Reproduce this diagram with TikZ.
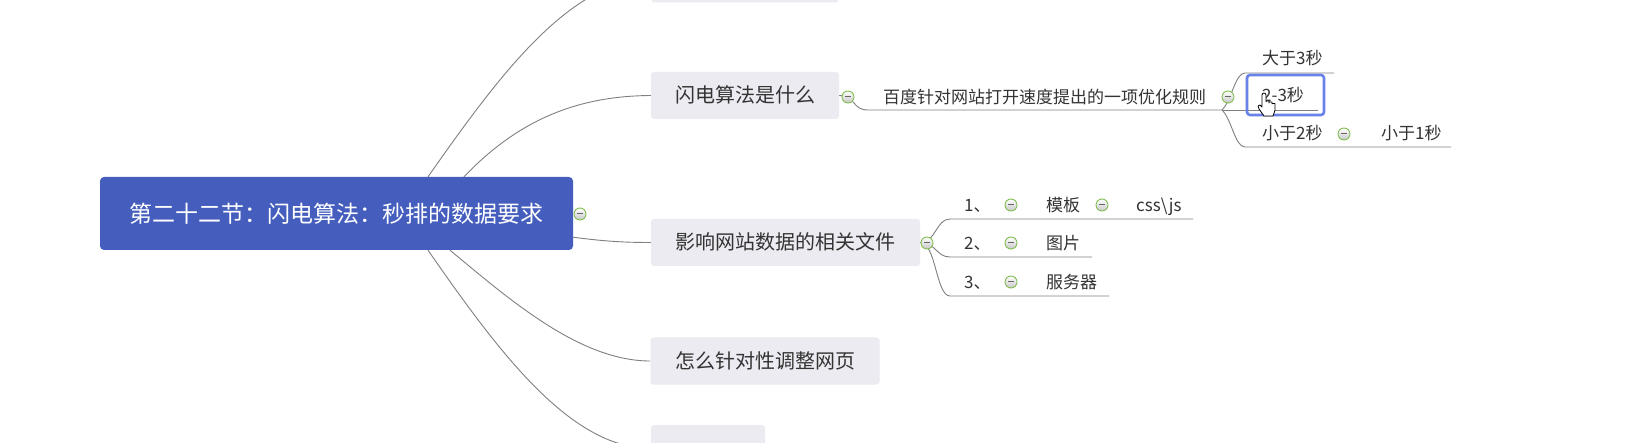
\documentclass[tikz,border=0pt]{standalone}
\usepackage{fontspec}
\setmainfont{Noto Sans CJK SC}
\usetikzlibrary{calc}
\definecolor{rootblue}{RGB}{69,94,190}
\definecolor{topicgray}{RGB}{235,235,241}
\definecolor{linegray}{RGB}{128,128,128}
\definecolor{txt}{RGB}{51,51,51}
\definecolor{cgreen}{RGB}{130,190,80}
\definecolor{selblue}{RGB}{104,130,232}
\pgfdeclarelayer{paper}
\pgfdeclarelayer{lines}
\pgfsetlayers{paper,lines,main}
\tikzset{
 conn/.style={draw=linegray, line width=0.9pt},
 rootbox/.style={rectangle, rounded corners=4pt, fill=rootblue, text=white,
   font=\fontsize{23pt}{27pt}\selectfont, minimum width=473pt, minimum height=73pt,
   inner sep=0pt, text height=18.9pt, text depth=1.8pt},
 topicbox/.style={rectangle, rounded corners=3pt, fill=topicgray, text=txt,
   font=\fontsize{20pt}{24pt}\selectfont, minimum height=47pt, inner sep=0pt,
   text height=16.4pt, text depth=1.6pt},
 leaf/.style={text=txt, font=\fontsize{17pt}{20pt}\selectfont, inner sep=0pt,
   text height=14pt, text depth=1.4pt, anchor=west},
 collapse/.style={circle, draw=cgreen, line width=0.9pt, top color=white,
   bottom color=black!22, minimum size=12pt, inner sep=0pt,
   path picture={\draw[line width=1pt, draw=black!60]
     ([xshift=-3pt]path picture bounding box.center) --
     ([xshift=3pt]path picture bounding box.center);}},
 selbox/.style={draw=selblue, line width=2.6pt, rounded corners=3pt,
   minimum width=77pt, minimum height=40pt, inner sep=0pt},
}
\begin{document}
\begin{tikzpicture}[x=1pt,y=-1pt]
\useasboundingbox (0,0) rectangle (1635,443);
\begin{pgfonlayer}{paper}
\fill[white] (0,0) rectangle (1635,443);
\end{pgfonlayer}

% main topics
\node[rootbox] (root) at (336.5,213.5) {第二十二节：闪电算法：秒排的数据要求};
\node[topicbox, minimum width=187pt] (topB) at (745,-21) {};
\node[topicbox, minimum width=188pt] (shandian) at (745,95.5) {闪电算法是什么};
\node[topicbox, minimum width=269pt] (yingxiang) at (785.5,242.5) {影响网站数据的相关文件};
\node[topicbox, minimum width=229pt] (zenme) at (765,361) {怎么针对性调整网页};
\node[topicbox, minimum width=114pt] (botB) at (708,448.5) {};

% leaves
\node[leaf] (baidu) at (883,97) {百度针对网站打开速度提出的一项优化规则};
\node[leaf] (dayu3) at (1262,58) {大于3秒};
\node[leaf] (s23) at (1262,95) {2-3秒};
\node[leaf] (xiaoyu2) at (1262,133) {小于2秒};
\node[leaf] (xiaoyu1) at (1381,133) {小于1秒};
\node[leaf] (n1) at (964,205) {1、};
\node[leaf] (muban) at (1046,205) {模板};
\node[leaf] (css) at (1136,205) {css\textbackslash js};
\node[leaf] (n2) at (964,243) {2、};
\node[leaf] (tupian) at (1046,243) {图片};
\node[leaf] (n3) at (964,282) {3、};
\node[leaf] (fuwuqi) at (1046,282) {服务器};

% collapse markers
\node[collapse] (cRoot) at (580,214) {};
\node[collapse] (cShandian) at (848,97) {};
\node[collapse] (cBaidu) at (1228,97) {};
\node[collapse] (cX2) at (1344,134) {};
\node[collapse] (cYing) at (927,243) {};
\node[collapse] (c1) at (1011,205) {};
\node[collapse] (cMuban) at (1102,205) {};
\node[collapse] (c2) at (1011,243) {};
\node[collapse] (c3) at (1011,282) {};

% underline coordinates
\coordinate (ubS) at (868,110);
\coordinate (ubE) at (1222,110);
\coordinate (u23E) at (1318,110);
\coordinate (uD3s) at (1245,73);
\coordinate (uD3e) at (1334,73);
\coordinate (uX2s) at (1245,147);
\coordinate (uX2e) at (1451,147);
\coordinate (u1s) at (950,219);
\coordinate (u1e) at (1193,219);
\coordinate (u2s) at (950,257);
\coordinate (u2e) at (1092,257);
\coordinate (u3s) at (950,296);
\coordinate (u3e) at (1109,296);

\begin{pgfonlayer}{lines}
\draw[conn] ([xshift=91.5pt]root.north) .. controls (498,77) and (570,-21) .. (topB.west);
\draw[conn] ([xshift=127.5pt]root.north) .. controls (520,118) and (580,96) .. (shandian.west);
\draw[conn] ([xshift=-13pt,yshift=-22pt]root.east) .. controls (600,241) and (620,242.5) .. (yingxiang.west);
\draw[conn] ([xshift=113.5pt]root.south) .. controls (510,300) and (580,361) .. (zenme.west);
\draw[conn] ([xshift=91.5pt]root.south) .. controls (498,351) and (570,448.5) .. (botB.west);
\draw[conn] (shandian.east) .. controls (856,96) and (852,110) .. (ubS) -- (ubE);
\draw[conn] (ubE) -- (u23E);
\draw[conn] (ubE) .. controls (1232,100) and (1235,73) .. (uD3s) -- (uD3e);
\draw[conn] (ubE) .. controls (1232,120) and (1235,147) .. (uX2s) -- (uX2e);
\draw[conn] (yingxiang.east) .. controls (936,242.5) and (936,219) .. (u1s) -- (u1e);
\draw[conn] (yingxiang.east) .. controls (936,242.5) and (936,257) .. (u2s) -- (u2e);
\draw[conn] (yingxiang.east) .. controls (936,242.5) and (936,296) .. (u3s) -- (u3e);
\end{pgfonlayer}

% selection frame
\node[selbox] (sel) at (1285.5,95) {};

% hand cursor
\filldraw[fill=white, draw=black, line width=0.8pt, line join=round]
  (1262,107) -- (1262,95) arc[start angle=180, end angle=0, x radius=2pt, y radius=2pt]
  -- (1266,102) -- (1266,101) -- (1269,101) -- (1269,103) -- (1269,102) -- (1272,102)
  -- (1272,104) -- (1272,103.5) -- (1275,103.5) -- (1275,110) -- (1273,116) -- (1264,116)
  -- (1259,109) -- (1258,106) -- (1260,105) -- cycle;
\end{tikzpicture}
\end{document}
